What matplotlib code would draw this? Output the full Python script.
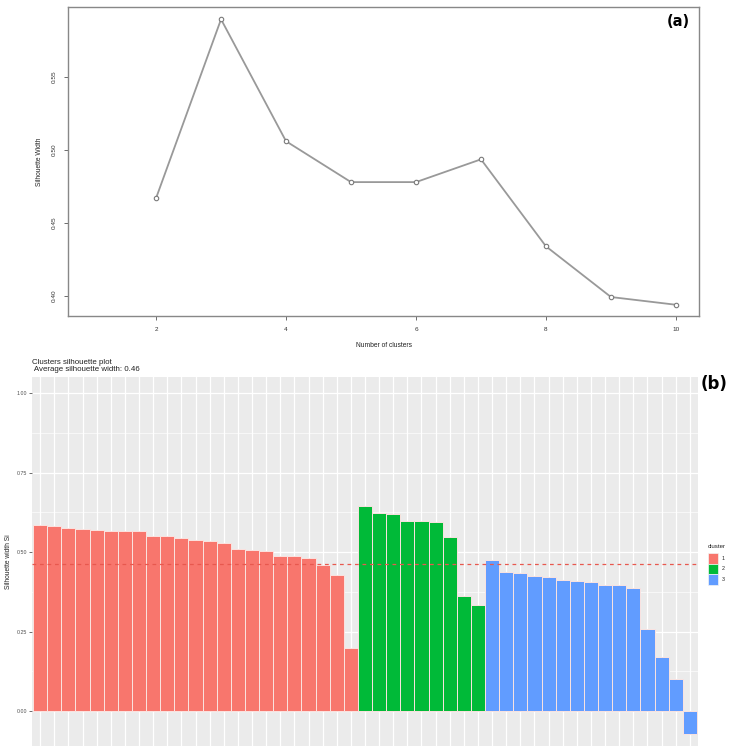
"""Two-panel cluster quality figure: silhouette vs k (a) and per-sample silhouette bars (b)."""

import matplotlib

matplotlib.use("Agg")
import matplotlib.pyplot as plt
import numpy as np
from matplotlib.patches import Rectangle

plt.rcParams["font.family"] = ["Liberation Sans", "DejaVu Sans"]

# --- data -------------------------------------------------------------------
n_clusters = [2, 3, 4, 5, 6, 7, 8, 9, 10]
avg_silhouette = [0.467, 0.5895, 0.506, 0.478, 0.478, 0.4936, 0.434, 0.3993, 0.394]

sil_cluster1 = [0.587, 0.582, 0.576, 0.572, 0.569, 0.568, 0.568, 0.565, 0.551,
                0.550, 0.546, 0.537, 0.534, 0.529, 0.511, 0.507, 0.505, 0.487,
                0.487, 0.481, 0.461, 0.429, 0.199]
sil_cluster2 = [0.645, 0.622, 0.619, 0.598, 0.597, 0.594, 0.549, 0.361, 0.333]
sil_cluster3 = [0.475, 0.437, 0.435, 0.426, 0.422, 0.412, 0.409, 0.405, 0.398,
                0.396, 0.386, 0.259, 0.169, 0.100, -0.072]
cluster_labels = ["1", "2", "3"]
cluster_colors = ["#F8766D", "#00BA38", "#619CFF"]
avg_width = 0.463

fig = plt.figure(figsize=(7.30, 7.46), dpi=100)

# --- (a) base-R style line plot ----------------------------------------------
ax_a = fig.add_axes([0.0927, 0.5764, 0.8653, 0.4138])
ax_a.plot(n_clusters, avg_silhouette, color="#999999", lw=1.3,
          marker="o", markersize=3.2, markerfacecolor="white",
          markeredgecolor="#7a7a7a", markeredgewidth=0.8)
ax_a.set_xlim(0.64, 10.36)
ax_a.set_ylim(0.3863, 0.5977)
ax_a.set_xticks([2, 4, 6, 8, 10])
ax_a.set_yticks([0.40, 0.45, 0.50, 0.55])
ax_a.set_yticklabels(["0.40", "0.45", "0.50", "0.55"], rotation=90, va="center")
ax_a.tick_params(labelsize=4.6, length=3, width=0.6, color="#555555",
                 labelcolor="#333333", pad=5)
for side in ax_a.spines.values():
    side.set_color("#888888")
    side.set_linewidth(1.0)
ax_a.set_xlabel("Number of clusters", fontsize=4.8, color="#222222", labelpad=7)
ax_a.set_ylabel("Silhouette Width", fontsize=4.8, color="#222222", labelpad=6)
ax_a.text(0.985, 0.955, "(a)", transform=ax_a.transAxes, ha="right", va="center",
          fontsize=10.5, fontweight="bold", family="DejaVu Sans")

# --- (b) ggplot-style silhouette bars ---------------------------------------
ax_b = fig.add_axes([0.0434, 0.0, 0.9132, 0.495])
ax_b.set_facecolor("#EBEBEB")
groups = [sil_cluster1, sil_cluster2, sil_cluster3]
pos = 1
for vals, col in zip(groups, cluster_colors):
    xs = np.arange(pos, pos + len(vals))
    ax_b.bar(xs, vals, width=1.0, color=col, edgecolor="#fbe3e0",
             linewidth=0.7, zorder=2, alpha=1.0)
    pos += len(vals)
n_total = pos - 1
ax_b.axhline(avg_width, color="#e8584e", lw=0.9, ls=(0, (3, 3)), zorder=3)

ax_b.set_xlim(0.4, n_total + 0.6)
ax_b.set_ylim(-0.11, 1.052)
ax_b.set_xticks(np.arange(1, n_total + 1))
ax_b.set_xticklabels([])
ax_b.set_yticks([0.0, 0.25, 0.5, 0.75, 1.0])
ax_b.set_yticklabels(["0.00", "0.25", "0.50", "0.75", "1.00"])
ax_b.set_yticks([0.125, 0.375, 0.625, 0.875], minor=True)
ax_b.grid(True, which="major", color="white", lw=0.9, zorder=0)
ax_b.grid(True, which="minor", axis="y", color="white", lw=0.45, zorder=0)
ax_b.set_axisbelow(True)
ax_b.tick_params(axis="y", labelsize=3.8, labelcolor="#4D4D4D", length=2,
                 width=0.5, color="#333333", pad=1.5)
ax_b.tick_params(axis="y", which="minor", length=0)
ax_b.tick_params(axis="x", length=0)
for side in ax_b.spines.values():
    side.set_visible(False)
ax_b.set_ylabel("Silhouette width Si", fontsize=4.8, color="#222222", labelpad=3)
ax_b.set_title("Clusters silhouette plot\n Average silhouette width: 0.46",
               loc="left", fontsize=5.7, color="#222222", pad=4, linespacing=1.05)

# legend drawn manually in figure coordinates (ggplot-like)
fig.text(708 / 730, 1 - 547 / 746, "cluster", fontsize=4.4, color="#222222",
         ha="left", va="center")
key_h = 10.5 / 746
for i, (lab, col) in enumerate(zip(cluster_labels, cluster_colors)):
    y0 = 1 - (553 + 10.5 * (i + 1)) / 746
    fig.patches.append(Rectangle((708 / 730, y0), 10 / 730, key_h,
                                 transform=fig.transFigure, facecolor=col,
                                 edgecolor="#f4f4f4", lw=0.5))
    fig.text(722 / 730, y0 + key_h / 2, lab, fontsize=3.8, color="#222222",
             ha="left", va="center")

fig.text(728 / 730, 1 - 384 / 746, "(b)", ha="right", va="center",
         fontsize=12, fontweight="bold", family="DejaVu Sans")

fig.savefig("out.png", dpi=100)
